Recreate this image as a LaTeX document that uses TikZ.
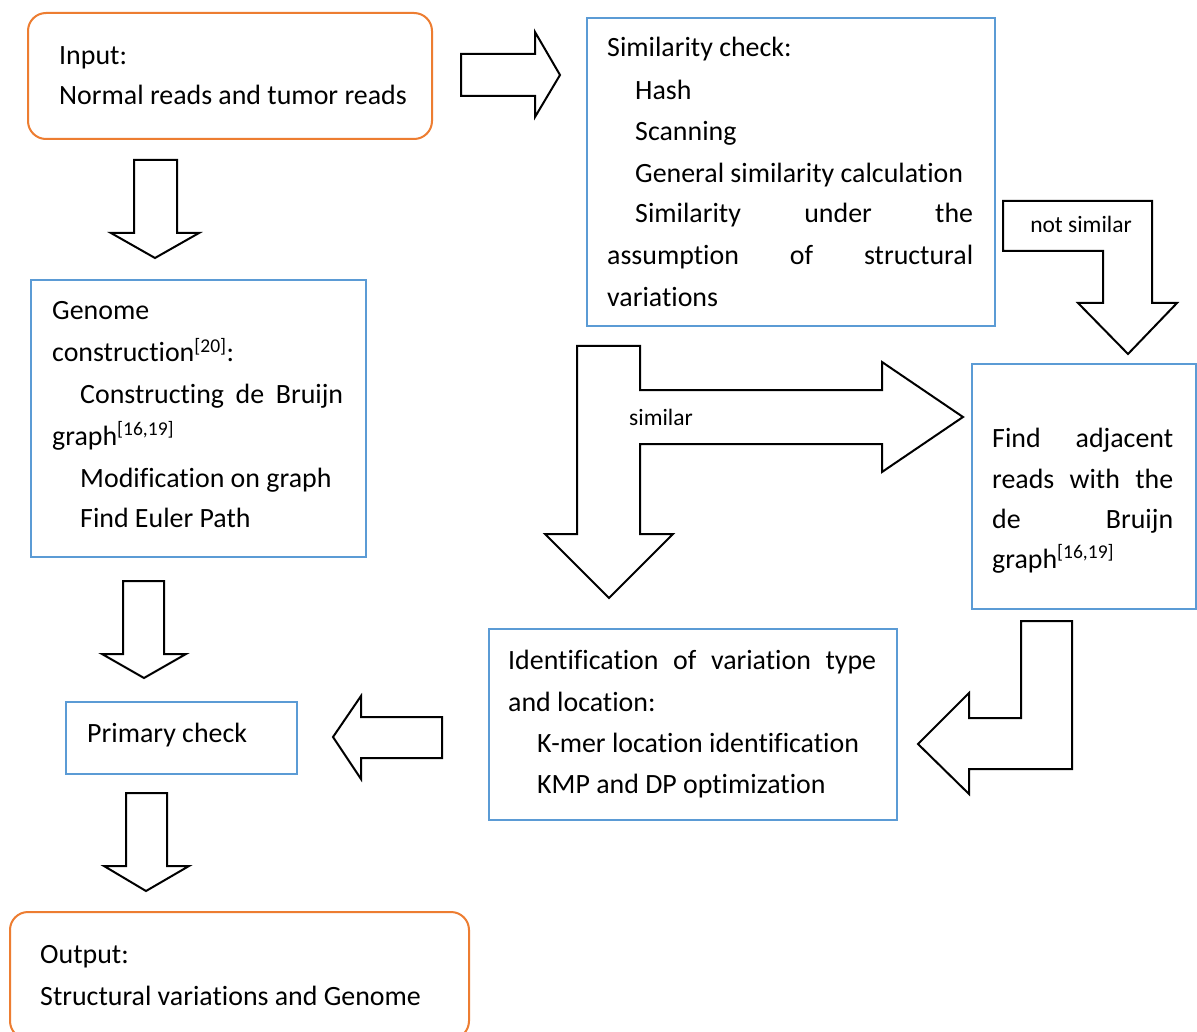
\documentclass[tikz,border=0pt]{standalone}
\usepackage{fontspec}
\setmainfont{Carlito}[Ligatures=NoCommon]
\definecolor{boxblue}{RGB}{91,155,213}
\definecolor{boxorange}{RGB}{237,125,49}
\newcommand\bodysize{\fontsize{27.9}{33}\selectfont}
\newcommand\labelsize{\fontsize{23.5}{28}\selectfont}
\newcommand\jline[2]{\makebox[#1pt][s]{#2}}
\newcommand\refs[1]{\textsuperscript{[#1]}}
\begin{document}
\begin{tikzpicture}[x=1pt,y=-1pt,
  bluebox/.style={draw=boxblue, line width=2pt, anchor=north west, inner sep=0pt},
  roundbox/.style={draw=boxorange, line width=2pt, rounded corners=18pt, anchor=north west, inner sep=0pt},
  txt/.style={anchor=base west, inner sep=0pt, font=\bodysize},
  lbl/.style={anchor=center, inner sep=0pt, font=\labelsize},
  blockarrow/.style={draw=black, line width=2pt, fill=white, line join=miter}]
\clip (0,0) rectangle (1197,1032);
\fill[white] (0,0) rectangle (1197,1032);

% ---- boxes ----
\node[roundbox, minimum width=404pt, minimum height=126pt] (input) at (27,12) {};
\node[bluebox, minimum width=408pt, minimum height=308pt] (sim) at (586,17) {};
\node[bluebox, minimum width=335pt, minimum height=277pt] (genome) at (30,279) {};
\node[bluebox, minimum width=224pt, minimum height=245pt] (find) at (971,363) {};
\node[bluebox, minimum width=408pt, minimum height=191pt] (ident) at (488,628) {};
\node[bluebox, minimum width=231pt, minimum height=72pt] (primary) at (65,701) {};
\node[roundbox, minimum width=459pt, minimum height=127pt] (output) at (9,911) {};

% ---- block arrows ----
% input -> similarity check
\draw[blockarrow] (461,54) -- (535,54) -- (535,32) -- (560,75) -- (535,117) -- (535,96) -- (461,96) -- cycle;
% input -> genome construction
\draw[blockarrow] (134,160) -- (177,160) -- (177,233) -- (199,233) -- (155,258) -- (111,233) -- (134,233) -- cycle;
% genome construction -> primary check
\draw[blockarrow] (123,581) -- (164,581) -- (164,654) -- (186,654) -- (144,678) -- (102,654) -- (123,654) -- cycle;
% primary check -> output
\draw[blockarrow] (126,793) -- (167,793) -- (167,866) -- (189,866) -- (146,891) -- (104,866) -- (126,866) -- cycle;
% identification -> primary check
\draw[blockarrow] (442,717) -- (361,717) -- (361,696) -- (333,737) -- (361,779) -- (361,758) -- (442,758) -- cycle;
% similar: split arrow to the right and downward
\draw[blockarrow] (577,346) -- (640,346) -- (640,390) -- (882,390) -- (882,362) -- (963,417) -- (882,472) -- (882,444) -- (640,444) -- (640,534) -- (673,534) -- (609,598) -- (545,534) -- (577,534) -- cycle;
% not similar: bent arrow down into the adjacent-reads box
\draw[blockarrow] (1003,201) -- (1152,201) -- (1152,303) -- (1177,303) -- (1128,354) -- (1078,303) -- (1103,303) -- (1103,251) -- (1003,251) -- cycle;
% adjacent reads -> identification
\draw[blockarrow] (1021,621) -- (1072,621) -- (1072,769) -- (969,769) -- (969,794) -- (918,744) -- (969,693) -- (969,718) -- (1021,718) -- cycle;

\node[lbl] (lnotsim) at (1081,224) {not similar};
\node[lbl] (lsim) at (661,417) {similar};

% ---- texts ----
\node[txt] (in1) at (59,65) {Input:};
\node[txt] (in2) at (59,105) {Normal reads and tumor reads};

\node[txt] (s1) at (607,57) {Similarity check:};
\node[txt] (s2) at (635,100) {Hash};
\node[txt] (s3) at (635,141) {Scanning};
\node[txt] (s4) at (635,183) {General similarity calculation};
\node[txt] (s5) at (635,223) {\jline{338}{Similarity under the}};
\node[txt] (s6) at (607,265) {\jline{366}{assumption of structural}};
\node[txt] (s7) at (607,307) {variations};

\node[txt] (g1) at (52,320) {Genome};
\node[txt] (g2) at (52,362) {construction\refs{20}:};
\node[txt] (g3) at (80,403) {\jline{263}{Constructing de Bruijn}};
\node[txt] (g4) at (52,445) {graph\refs{16,19}};
\node[txt] (g5) at (80,487) {Modification on graph};
\node[txt] (g6) at (80,527) {Find Euler Path};

\node[txt] (f1) at (992,447) {\jline{181}{Find adjacent}};
\node[txt] (f2) at (992,488) {\jline{181}{reads with the}};
\node[txt] (f3) at (992,528) {\jline{181}{de Bruijn}};
\node[txt] (f4) at (992,568) {graph\refs{16,19}};

\node[txt] (i1) at (508,669) {\jline{368}{Identification of variation type}};
\node[txt] (i2) at (508,711) {and location:};
\node[txt] (i3) at (537,752) {K-mer location identification};
\node[txt] (i4) at (537,793) {KMP and DP optimization};

\node[txt] (p1) at (87,742) {Primary check};

\node[txt] (o1) at (40,963) {Output:};
\node[txt] (o2) at (40,1005) {Structural variations and Genome};
\end{tikzpicture}
\end{document}
